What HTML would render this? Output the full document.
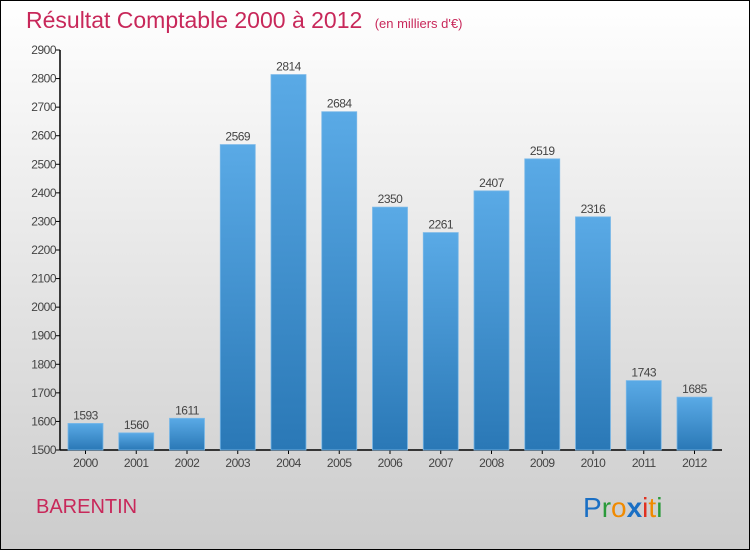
<!DOCTYPE html>
<html><head><meta charset="utf-8"><style>
body{margin:0}
svg{display:block;font-family:"Liberation Sans","DejaVu Sans",sans-serif}
</style></head><body>
<svg width="750" height="550" viewBox="0 0 750 550">
<defs>
<linearGradient id="bg" x1="0" y1="0" x2="0" y2="1"><stop offset="0" stop-color="#ffffff"/><stop offset="1" stop-color="#cccccc"/></linearGradient>
<linearGradient id="bar" x1="0" y1="0" x2="0" y2="1"><stop offset="0" stop-color="#5aaae6"/><stop offset="1" stop-color="#2a78b6"/></linearGradient>
</defs>
<rect x="0.5" y="0.5" width="749" height="549" fill="url(#bg)" stroke="#000"/>
<text x="26" y="28" font-size="23" fill="#c8285a">Résultat Comptable 2000 à 2012 <tspan font-size="13" dx="6">(en milliers d'€)</tspan></text>
<g id="axes"></g>
<g id="bars"></g>
<text x="36" y="513" font-size="20" fill="#c8285a">BARENTIN</text>
<text x="583" y="517" font-size="28"><tspan fill="#1a6fc4">P</tspan><tspan fill="#2a9a3a">r</tspan><tspan fill="#f08a00">o</tspan><tspan fill="#1a6fc4" font-weight="bold">x</tspan><tspan fill="#e03020">i</tspan><tspan fill="#f08a00">t</tspan><tspan fill="#2a9a3a">i</tspan></text>
</svg>
<script>
const categories=["2000","2001","2002","2003","2004","2005","2006","2007","2008","2009","2010","2011","2012"];
const values=[1593,1560,1611,2569,2814,2684,2350,2261,2407,2519,2316,1743,1685];
const ticks=[1500,1600,1700,1800,1900,2000,2100,2200,2300,2400,2500,2600,2700,2800,2900];
const NS="http://www.w3.org/2000/svg";
const y=v=>450-(v-1500)*400/1400;
const x=i=>85.5+i*50.75;
function mk(t,a,p,txt){const e=document.createElementNS(NS,t);for(const k in a)e.setAttribute(k,a[k]);if(txt!=null)e.textContent=txt;p.appendChild(e);return e;}
const ax=document.getElementById('axes'),bg=document.getElementById('bars');
const yl=mk('line',{x1:60,y1:50,x2:60,y2:450,stroke:'#000','stroke-width':1.5},ax);


const xl=mk('line',{x1:60,y1:450,x2:722,y2:450,stroke:'#000','stroke-width':1.5},ax);


ticks.forEach(t=>{
  mk('line',{x1:56,x2:60,y1:y(t),y2:y(t),stroke:'#000'},ax);
  const l=mk('text',{x:56,y:y(t)+4,'font-size':12,'text-anchor':'end',fill:'#444','letter-spacing':'-0.5'},ax,t);
  
  
});
categories.forEach((c,i)=>{
  const cx=x(i),v=values[i];
  mk('line',{x1:cx,x2:cx,y1:450,y2:454,stroke:'#000'},ax);
  const l=mk('text',{x:cx,y:467,'font-size':12,'text-anchor':'middle',fill:'#444','letter-spacing':'-0.5'},ax,c);
  
  
  const r=mk('rect',{x:cx-17.5,y:y(v),width:35,height:450-y(v),fill:'url(#bar)',stroke:'#7ab8e8','stroke-width':0.8},bg);
  
  
  const t=mk('text',{x:cx,y:y(v)-4,'font-size':12,'text-anchor':'middle',fill:'#444','letter-spacing':'-0.5'},bg,v);
  
  
});
</script>
</body></html>
